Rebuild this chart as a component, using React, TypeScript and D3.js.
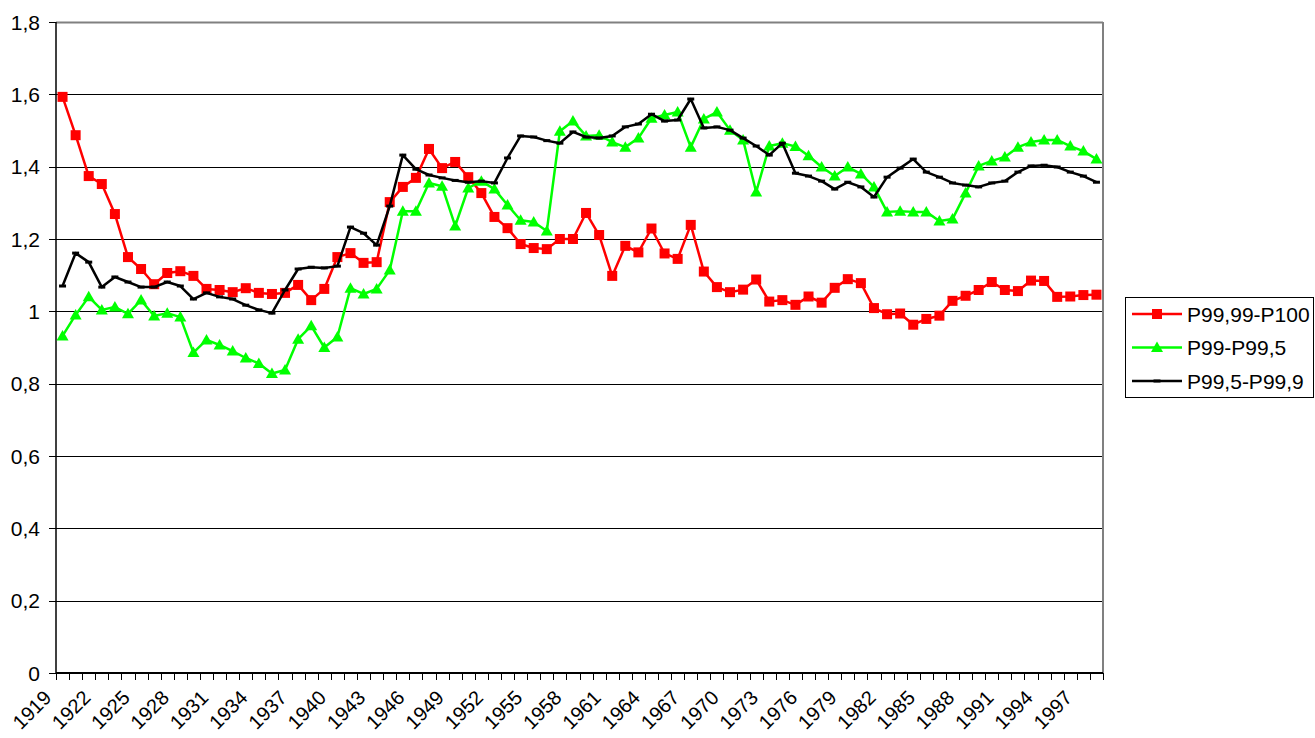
import React from "react";
import * as d3 from "d3";

const years: number[] = Array.from({ length: 80 }, (_, i) => 1919 + i);

const p9999_100: number[] = [
  1.593, 1.487, 1.374, 1.352, 1.269, 1.150, 1.117, 1.075, 1.106, 1.111,
  1.098, 1.062, 1.059, 1.053, 1.064, 1.051, 1.048, 1.051, 1.073, 1.031,
  1.062, 1.150, 1.161, 1.134, 1.136, 1.302, 1.344, 1.369, 1.449, 1.396,
  1.413, 1.371, 1.327, 1.261, 1.230, 1.186, 1.175, 1.172, 1.200, 1.200,
  1.272, 1.211, 1.098, 1.181, 1.163, 1.229, 1.160, 1.145, 1.239, 1.110,
  1.067, 1.053, 1.060, 1.088, 1.027, 1.031, 1.018, 1.041, 1.024, 1.065,
  1.089, 1.078, 1.009, 0.992, 0.994, 0.963, 0.979, 0.988, 1.029, 1.043,
  1.059, 1.081, 1.059, 1.056, 1.085, 1.084, 1.040, 1.041, 1.045, 1.046,
];

const p99_995: number[] = [
  0.932, 0.990, 1.040, 1.004, 1.012, 0.993, 1.031, 0.987, 0.995, 0.984,
  0.886, 0.921, 0.907, 0.890, 0.871, 0.856, 0.828, 0.838, 0.923, 0.960,
  0.900, 0.929, 1.064, 1.048, 1.062, 1.114, 1.277, 1.277, 1.355, 1.346,
  1.236, 1.341, 1.360, 1.338, 1.294, 1.252, 1.247, 1.222, 1.498, 1.526,
  1.485, 1.487, 1.468, 1.454, 1.479, 1.534, 1.543, 1.551, 1.454, 1.532,
  1.551, 1.501, 1.474, 1.330, 1.457, 1.465, 1.456, 1.430, 1.399, 1.374,
  1.399, 1.380, 1.344, 1.275, 1.277, 1.275, 1.275, 1.250, 1.255, 1.327,
  1.402, 1.416, 1.427, 1.454, 1.468, 1.474, 1.474, 1.457, 1.443, 1.421,
];

const p995_999: number[] = [
  1.070, 1.161, 1.136, 1.067, 1.095, 1.081, 1.067, 1.067, 1.081, 1.070,
  1.034, 1.051, 1.040, 1.034, 1.017, 1.004, 0.995, 1.059, 1.117, 1.122,
  1.120, 1.125, 1.233, 1.216, 1.183, 1.291, 1.432, 1.393, 1.377, 1.369,
  1.362, 1.357, 1.360, 1.355, 1.424, 1.485, 1.482, 1.472, 1.465, 1.496,
  1.482, 1.479, 1.485, 1.510, 1.518, 1.545, 1.526, 1.529, 1.587, 1.507,
  1.510, 1.501, 1.479, 1.457, 1.432, 1.465, 1.382, 1.374, 1.360, 1.338,
  1.357, 1.344, 1.316, 1.371, 1.396, 1.421, 1.385, 1.371, 1.355, 1.349,
  1.344, 1.355, 1.360, 1.385, 1.402, 1.404, 1.399, 1.385, 1.374, 1.357,
];

const yTicks: number[] = [0, 0.2, 0.4, 0.6, 0.8, 1, 1.2, 1.4, 1.6, 1.8];
const xLabelYears: number[] = years.filter((y) => (y - 1919) % 3 === 0);

const seriesNames = ["P99,99-P100", "P99-P99,5", "P99,5-P99,9"];
const seriesColors = ["#FF0000", "#00FF00", "#000000"];
const seriesMarkers = ["square", "triangle", "dash"];

const W = 1315;
const H = 738;
const left = 56;
const right = 1103;
const top = 22;
const bottom = 673;
const FONT = "'Liberation Sans', Arial, sans-serif";

function Marker({ type, x, y, color }: { type: string; x: number; y: number; color: string }) {
  if (type === "square") {
    return <rect x={x - 5} y={y - 5} width={10} height={10} fill={color} />;
  }
  if (type === "triangle") {
    const s = 6;
    return (
      <path
        d={`M${x},${y - s} L${x + s},${y + s * 0.75} L${x - s},${y + s * 0.75} Z`}
        fill={color}
      />
    );
  }
  return <rect x={x - 3.5} y={y - 1.5} width={7} height={3} fill={color} />;
}

export default function App() {
  const x = d3
    .scaleBand<number>()
    .domain(years)
    .range([left, right])
    .paddingInner(0)
    .paddingOuter(0);
  const bw = x.bandwidth();
  const cx = (yr: number) => (x(yr) as number) + bw / 2;
  const y = d3.scaleLinear().domain([0, 1.8]).range([bottom, top]);

  const allSeries = [p9999_100, p99_995, p995_999];
  const line = d3
    .line<number>()
    .x((_, i) => cx(years[i]))
    .y((d) => y(d));

  const boundaries = years.map((yr) => x(yr) as number).concat([right]);

  return (
    <svg
      width={W}
      height={H}
      style={{ position: "absolute", left: 0, top: 0, background: "#fff" }}
      fontFamily={FONT}
    >
      <rect x={0} y={0} width={W} height={H} fill="#fff" />
      {yTicks.map((t) => (
        <line
          key={`g${t}`}
          x1={left}
          x2={right}
          y1={Math.round(y(t)) + 0.5}
          y2={Math.round(y(t)) + 0.5}
          stroke={t === 1.8 ? "#808080" : "#000"}
          strokeWidth={t === 1.8 ? 2 : 1}
        />
      ))}
      <line x1={right} x2={right} y1={top} y2={bottom} stroke="#808080" strokeWidth={2} />
      <line x1={left} x2={left} y1={top} y2={bottom} stroke="#000" strokeWidth={1.5} />
      {yTicks.map((t) => (
        <g key={`yt${t}`}>
          <line
            x1={left - 7}
            x2={left}
            y1={Math.round(y(t)) + 0.5}
            y2={Math.round(y(t)) + 0.5}
            stroke="#000"
            strokeWidth={1}
          />
          <text x={40} y={y(t)} dy="0.36em" textAnchor="end" fontSize={21} fill="#000">
            {String(t).replace(".", ",")}
          </text>
        </g>
      ))}
      <line x1={left} x2={right} y1={bottom} y2={bottom} stroke="#000" strokeWidth={2} />
      {boundaries.map((b, i) => (
        <line
          key={`xt${i}`}
          x1={Math.round(b) + 0.5}
          x2={Math.round(b) + 0.5}
          y1={bottom}
          y2={bottom + 7}
          stroke="#000"
          strokeWidth={1}
        />
      ))}
      {xLabelYears.map((yr) => (
        <text
          key={`xl${yr}`}
          transform={`translate(${cx(yr) - 10},${699}) rotate(-45)`}
          textAnchor="end"
          fontSize={20}
          fill="#000"
        >
          {yr}
        </text>
      ))}
      {allSeries.map((s, si) => (
        <g key={`s${si}`}>
          <path d={line(s) || ""} fill="none" stroke={seriesColors[si]} strokeWidth={2.5} strokeLinejoin="round" />
          {s.map((v, i) => (
            <Marker key={i} type={seriesMarkers[si]} x={cx(years[i])} y={y(v)} color={seriesColors[si]} />
          ))}
        </g>
      ))}
      <rect x={1125.5} y={297.5} width={188} height={100} fill="#fff" stroke="#000" strokeWidth={1} />
      {seriesNames.map((name, i) => {
        const ly = 314 + i * 33.5;
        return (
          <g key={`lg${i}`}>
            <line x1={1132} x2={1182} y1={ly} y2={ly} stroke={seriesColors[i]} strokeWidth={2.5} />
            <Marker type={seriesMarkers[i]} x={1157} y={ly} color={seriesColors[i]} />
            <text x={1187} y={ly} dy="0.36em" fontSize={21} fill="#000">
              {name}
            </text>
          </g>
        );
      })}
    </svg>
  );
}
